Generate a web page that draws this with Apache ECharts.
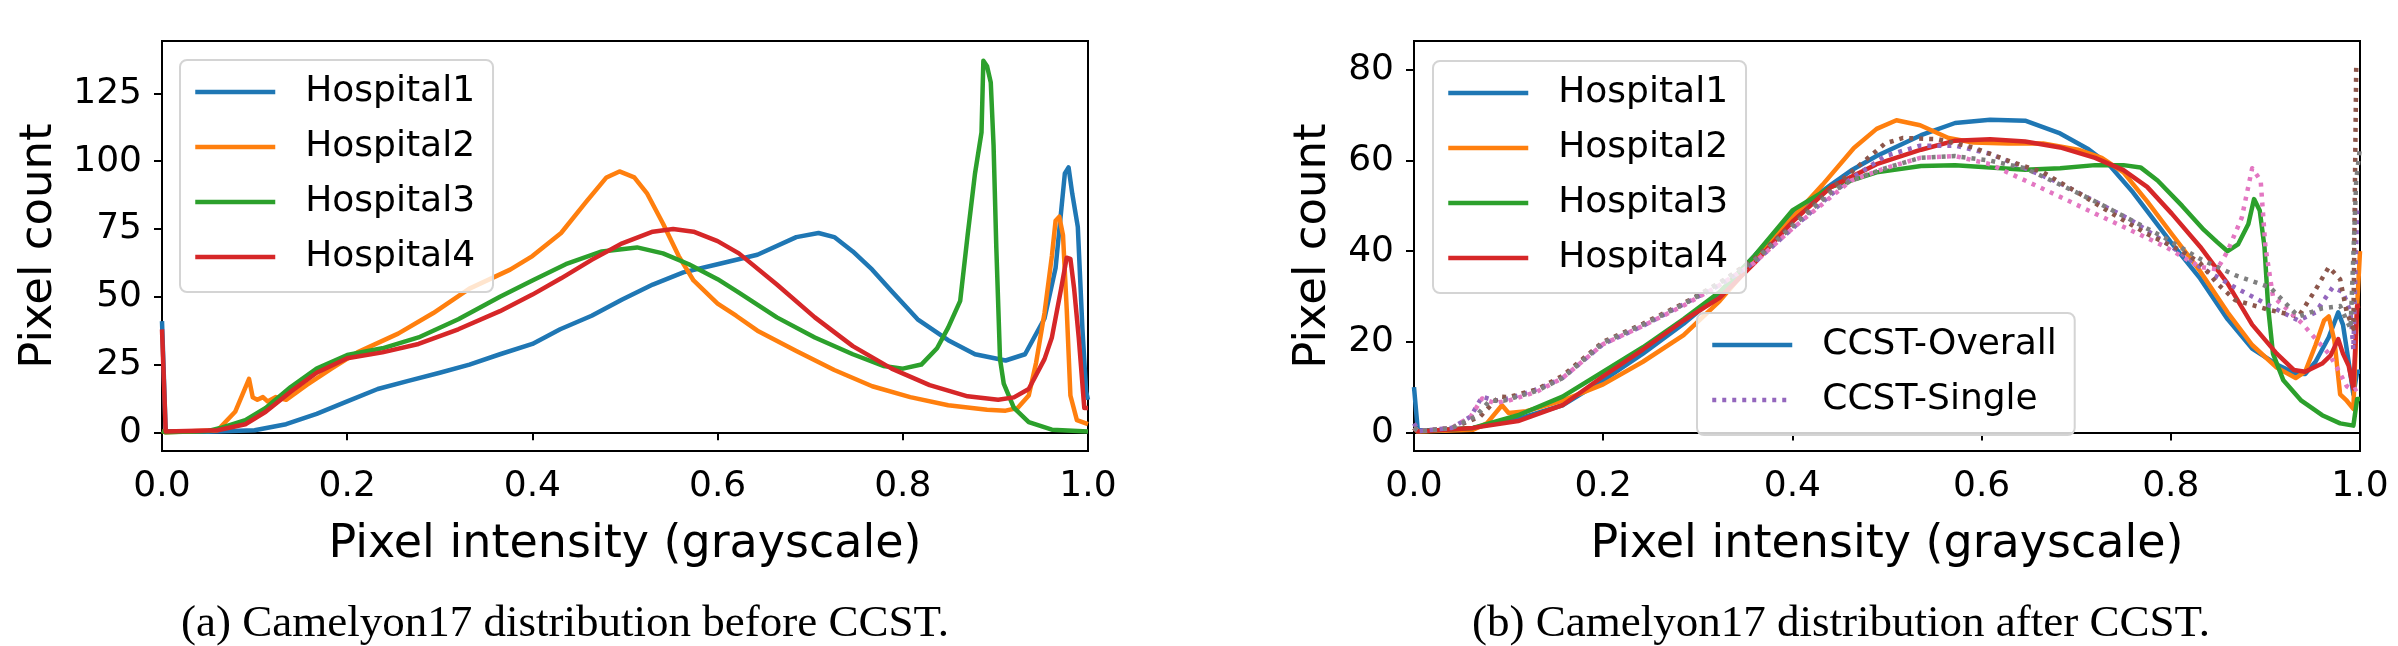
<!DOCTYPE html>
<html>
<head>
<meta charset="utf-8">
<script src="https://cdn.jsdelivr.net/npm/echarts@6/dist/echarts.min.js"></script>
<style>
html,body{margin:0;padding:0;background:#fff;}
#chart{width:2398px;height:646px;}
</style>
</head>
<body>
<div id="chart"></div>
<script>
// ---------- tick labels ----------
const xTicks = [0, 0.2, 0.4, 0.6, 0.8, 1.0];
const yTicksLeft = [0, 25, 50, 75, 100, 125];
const yTicksRight = [0, 20, 40, 60, 80];

// ---------- captions / labels ----------
const captionA = "(a) Camelyon17 distribution before CCST.";
const captionB = "(b) Camelyon17 distribution after CCST.";
const xLabel = "Pixel intensity (grayscale)";
const yLabel = "Pixel count";
const hospitals = ["Hospital1", "Hospital2", "Hospital3", "Hospital4"];

// ---------- (a) before CCST : [intensity, count] ----------
const beforeH1 = [[0,41],[0.004,0.5],[0.05,0.2],[0.1,0.8],[0.134,3],[0.167,6.8],[0.2,11.4],[0.233,16],[0.266,19],[0.3,22],[0.332,25],[0.365,28.8],[0.4,32.6],[0.43,38],[0.464,43],[0.497,49],[0.53,54.5],[0.563,59],[0.6,62],[0.643,65.5],[0.685,72],[0.709,73.5],[0.726,72],[0.746,66.7],[0.767,60],[0.788,52],[0.816,41.7],[0.849,34],[0.878,28.8],[0.911,26.5],[0.932,28.8],[0.953,42],[0.965,60.6],[0.975,95.5],[0.979,97.7],[0.983,88],[0.989,75.8],[0.994,38],[0.998,15],[1,12]];
const beforeH2 = [[0,0.5],[0.004,0],[0.06,0.8],[0.079,7.6],[0.094,19.7],[0.098,12.9],[0.103,12],[0.109,13],[0.114,11.4],[0.123,13],[0.134,12],[0.156,17.4],[0.183,23.5],[0.211,29.5],[0.255,36.4],[0.293,44],[0.332,53],[0.376,60],[0.4,65],[0.431,73.5],[0.458,85],[0.48,94],[0.494,96.2],[0.51,94],[0.524,88],[0.541,77],[0.558,65],[0.574,56],[0.6,47.5],[0.62,43],[0.643,37.5],[0.685,30],[0.726,23],[0.767,17],[0.808,13],[0.849,10],[0.891,8.3],[0.911,8],[0.924,9],[0.936,13.6],[0.944,25.8],[0.953,44],[0.961,65],[0.965,78],[0.969,79.5],[0.973,72.7],[0.977,45.5],[0.981,13.6],[0.988,4.5],[1,3]];
const beforeH3 = [[0,0.5],[0.004,0],[0.05,0.5],[0.062,1.5],[0.09,4.5],[0.112,9],[0.139,16.7],[0.167,23.5],[0.2,28.5],[0.238,31],[0.277,35],[0.32,41.7],[0.365,50],[0.4,56],[0.436,62],[0.475,66.7],[0.513,68.2],[0.541,66],[0.569,62],[0.6,56.5],[0.623,51.5],[0.664,42.4],[0.705,35],[0.746,28.8],[0.779,24.5],[0.8,23.5],[0.82,25],[0.837,31],[0.849,38.6],[0.862,48.5],[0.87,72.7],[0.878,95.5],[0.885,110.6],[0.887,137],[0.891,135],[0.895,129],[0.898,106],[0.901,68],[0.905,27],[0.909,18],[0.92,9],[0.936,3.8],[0.961,1],[1,0.3]];
const beforeH4 = [[0,38],[0.004,0.3],[0.06,0.8],[0.09,3],[0.112,7.6],[0.139,15],[0.167,22],[0.2,27.3],[0.238,29.5],[0.277,32.6],[0.32,38],[0.365,44.7],[0.4,50.8],[0.431,56.8],[0.464,63.6],[0.497,69.7],[0.53,74],[0.552,75],[0.574,74],[0.6,70.5],[0.623,66],[0.664,54.5],[0.705,42.4],[0.746,31.8],[0.788,23.5],[0.829,17.4],[0.87,13.3],[0.903,12],[0.92,12.9],[0.936,16],[0.953,27],[0.961,35],[0.971,53],[0.977,64.4],[0.981,64],[0.985,53],[0.99,35],[0.996,9],[1,9]];

// ---------- (b) after CCST : overall (solid) ----------
const afterH1 = [[0,10],[0.004,0.5],[0.03,0.5],[0.0625,1],[0.11,3],[0.157,6],[0.2,11.5],[0.242,17.4],[0.285,24],[0.323,30.6],[0.36,39],[0.4,48.3],[0.441,54.7],[0.462,57.8],[0.489,61],[0.536,65.6],[0.572,68.3],[0.609,69],[0.646,68.8],[0.683,66],[0.713,62.5],[0.735,59],[0.76,53],[0.8,42],[0.831,34],[0.86,25],[0.886,18.5],[0.912,15],[0.932,13],[0.942,12.9],[0.953,15.6],[0.967,21],[0.977,26.5],[0.982,23.8],[0.988,15.6],[0.993,8.4],[0.997,13.4],[1,13.4]];
const afterH2 = [[0,1],[0.004,0.2],[0.0625,0.6],[0.077,2],[0.093,6],[0.1,4.3],[0.119,4.7],[0.157,7],[0.2,10.6],[0.242,15.6],[0.285,21.5],[0.323,29],[0.36,38],[0.4,47.4],[0.432,54.7],[0.465,62.8],[0.489,67],[0.51,68.9],[0.535,67.8],[0.565,65],[0.591,64],[0.628,63.8],[0.665,63.8],[0.702,62.4],[0.727,60.6],[0.75,57.4],[0.775,51],[0.801,43.8],[0.831,35.6],[0.86,26.5],[0.886,19.3],[0.912,14.3],[0.932,12],[0.942,13.4],[0.953,19.3],[0.962,24.7],[0.967,25.6],[0.973,20.2],[0.979,8.4],[0.986,7],[0.993,5.2],[0.997,28],[1,40]];
const afterH3 = [[0,1],[0.004,0.2],[0.0625,1],[0.11,3.8],[0.157,7.9],[0.2,13.4],[0.242,18.8],[0.285,25],[0.323,31],[0.36,39],[0.4,49],[0.441,54.2],[0.489,57.4],[0.536,58.8],[0.572,59],[0.609,58.5],[0.646,58],[0.683,58.3],[0.72,59],[0.75,59],[0.768,58.5],[0.786,55.6],[0.812,50],[0.835,44.7],[0.849,42],[0.86,40],[0.871,41.5],[0.882,46],[0.888,51.5],[0.894,49],[0.899,41],[0.903,27.4],[0.908,17.4],[0.919,11.5],[0.938,7],[0.96,3.8],[0.979,2],[0.993,1.5],[0.997,7.4],[1,7.4]];
const afterH4 = [[0,1],[0.004,0.2],[0.0625,1],[0.11,2.5],[0.157,6],[0.2,12.4],[0.242,18.3],[0.285,24.7],[0.323,29.7],[0.36,37.4],[0.4,46.5],[0.441,54.2],[0.489,59.2],[0.536,62.4],[0.572,64.4],[0.609,64.7],[0.646,64.2],[0.683,62.9],[0.72,60.6],[0.75,57.9],[0.775,54.2],[0.801,48.3],[0.831,41],[0.86,32.9],[0.886,23.8],[0.912,17.4],[0.93,13.8],[0.942,13.4],[0.96,15.2],[0.969,17],[0.977,20.6],[0.982,17.4],[0.988,14.7],[0.993,9.7],[0.997,27.9],[1,28]];

// ---------- (b) after CCST : single (dotted) ----------
const singlePurple = [[0,2],[0.005,0.3],[0.04,1],[0.06,3.5],[0.072,7.9],[0.085,7],[0.1,7.5],[0.13,9.5],[0.157,12],[0.2,19.5],[0.242,23.5],[0.285,28.3],[0.323,32.5],[0.36,37.5],[0.4,45],[0.441,52.5],[0.462,56],[0.498,61],[0.535,63.3],[0.572,63.3],[0.609,61.5],[0.646,58.3],[0.683,55],[0.72,51],[0.757,47],[0.794,42],[0.831,36.5],[0.868,32],[0.905,27.9],[0.935,24.7],[0.953,26.5],[0.971,32],[0.982,31],[0.99,26.5],[0.993,18.3],[0.997,49],[1,49]];
const singleBrown = [[0,1],[0.005,0.3],[0.04,1],[0.07,3.5],[0.09,7.9],[0.1,7.8],[0.13,9.5],[0.157,12.5],[0.2,20],[0.242,24],[0.285,28.5],[0.323,33],[0.36,38.3],[0.4,46],[0.441,53.8],[0.462,57.4],[0.498,63.8],[0.517,65],[0.554,64.7],[0.591,62.9],[0.628,60],[0.665,57.4],[0.702,52.9],[0.738,48.3],[0.775,43.8],[0.812,40],[0.831,37.4],[0.849,32.9],[0.868,29.2],[0.905,27],[0.935,25.6],[0.953,31.5],[0.967,36.5],[0.979,33.8],[0.986,26.5],[0.993,22.9],[0.996,80.6],[1,81]];
const singlePink = [[0,1],[0.005,0.3],[0.04,1],[0.06,3.5],[0.072,7.5],[0.085,6.5],[0.1,7],[0.13,9],[0.157,12],[0.2,19.5],[0.242,23.5],[0.285,28],[0.323,32.5],[0.36,37.5],[0.4,45],[0.441,52],[0.462,55.6],[0.498,58.3],[0.535,60.6],[0.572,61],[0.609,59.2],[0.646,55.6],[0.683,52],[0.72,48.3],[0.757,44.7],[0.794,41],[0.831,36.5],[0.849,36],[0.86,40],[0.875,47.4],[0.886,58.3],[0.895,55.6],[0.9,41],[0.908,30],[0.922,27.4],[0.94,23.8],[0.955,20.2],[0.967,17.4],[0.977,13.8],[0.986,10.2],[0.993,9.3],[1,10]];
const singleGray = [[0,1],[0.005,0.3],[0.04,1],[0.065,3.5],[0.08,7],[0.095,7],[0.13,9.2],[0.157,12],[0.2,19.8],[0.242,23.8],[0.285,28.3],[0.323,33],[0.36,38],[0.4,45.5],[0.441,53],[0.462,55.6],[0.498,58.3],[0.535,60.6],[0.572,61],[0.609,60],[0.646,58.3],[0.683,54.7],[0.72,51],[0.757,47],[0.794,42.9],[0.831,38.3],[0.868,34.7],[0.905,32],[0.935,25.6],[0.96,27.4],[0.979,27.9],[0.99,22.9],[0.996,55.6],[1,63]];

// ---------- build ----------
const C = {blue:'#1f77b4', orange:'#ff7f0e', green:'#2ca02c', red:'#d62728', purple:'#9467bd', brown:'#8c564b', pink:'#e377c2', gray:'#7f7f7f'};
const FONT = 'DejaVu Sans';
const LW = 4.5;
const DOT = [4, 6];

function xAxis(grid){
  return {
    type:'value', gridIndex:grid, min:0, max:1,
    name:xLabel, nameLocation:'middle', nameGap:71,
    nameTextStyle:{fontSize:46, fontFamily:FONT, color:'#000'},
    axisLine:{show:true, lineStyle:{color:'#000', width:2}},
    axisTick:{show:true, length:8, lineStyle:{color:'#000', width:2}, customValues:xTicks},
    axisLabel:{show:true, fontSize:36, fontFamily:FONT, color:'#000', margin:18,
      customValues:xTicks, formatter:v=>Number(v).toFixed(1)},
    splitLine:{show:false}
  };
}
function yAxis(grid, min, max, ticks, gap){
  return {
    type:'value', gridIndex:grid, min:min, max:max,
    name:yLabel, nameLocation:'middle', nameGap:gap,
    nameTextStyle:{fontSize:45, fontFamily:FONT, color:'#000'},
    axisLine:{show:true, lineStyle:{color:'#000', width:2}},
    axisTick:{show:true, length:8, lineStyle:{color:'#000', width:2}, customValues:ticks},
    axisLabel:{show:true, fontSize:36, fontFamily:FONT, color:'#000', margin:20, customValues:ticks},
    splitLine:{show:false}
  };
}
function line(name, data, color, grid, dotted){
  return {
    type:'line', name:name, data:data, xAxisIndex:grid, yAxisIndex:grid,
    symbol:'none', showSymbol:false, smooth:false, clip:true, color:color,
    lineStyle:{color:color, width:LW, type: dotted ? DOT : 'solid', cap:'butt', join:'round'},
    emphasis:{disabled:true}
  };
}
function legend(names, left, top){
  return {
    data:names, left:left, top:top, orient:'vertical', selectedMode:false,
    itemWidth:80, itemHeight:20, itemGap:15, padding:[12,18,15,13],
    textStyle:{fontSize:36, fontFamily:FONT, color:'#000', padding:[0,0,0,25], lineHeight:40},
    itemStyle:{opacity:0},
    lineStyle:{width:LW},
    borderColor:'#d4d4d4', borderWidth:2, borderRadius:7,
    backgroundColor:'rgba(255,255,255,0.8)'
  };
}

const option = {
  animation:false,
  backgroundColor:'#fff',
  grid:[
    {left:162, top:41, width:926, height:410, show:true, borderColor:'#000', borderWidth:2, backgroundColor:'transparent'},
    {left:1414, top:41, width:946, height:410, show:true, borderColor:'#000', borderWidth:2, backgroundColor:'transparent'}
  ],
  xAxis:[xAxis(0), xAxis(1)],
  yAxis:[yAxis(0, -6.87, 144.3, yTicksLeft, 100), yAxis(1, -4.1, 86.4, yTicksRight, 78)],
  legend:[
    legend(hospitals, 180, 60),
    legend(hospitals, 1433, 61),
    legend(['CCST-Overall','CCST-Single'], 1697, 313)
  ],
  series:[
    line(hospitals[0], beforeH1, C.blue, 0),
    line(hospitals[1], beforeH2, C.orange, 0),
    line(hospitals[2], beforeH3, C.green, 0),
    line(hospitals[3], beforeH4, C.red, 0),
    line(hospitals[0], afterH1, C.blue, 1),
    line(hospitals[1], afterH2, C.orange, 1),
    line(hospitals[2], afterH3, C.green, 1),
    line(hospitals[3], afterH4, C.red, 1),
    line('CCST-Single', singlePurple, C.purple, 1, true),
    line('CCST-Single-2', singleBrown, C.brown, 1, true),
    line('CCST-Single-3', singlePink, C.pink, 1, true),
    line('CCST-Single-4', singleGray, C.gray, 1, true),
    line('CCST-Overall', [], C.blue, 1)
  ],
  graphic:[
    {type:'text', x:565, y:624, style:{text:captionA, font:'45px "Liberation Serif"', fill:'#000', align:'center', verticalAlign:'middle'}},
    {type:'text', x:1841, y:624, style:{text:captionB, font:'45px "Liberation Serif"', fill:'#000', align:'center', verticalAlign:'middle'}}
  ]
};
const chart = echarts.init(document.getElementById('chart'), null, {renderer:'canvas'});
chart.setOption(option);
</script>
</body>
</html>
